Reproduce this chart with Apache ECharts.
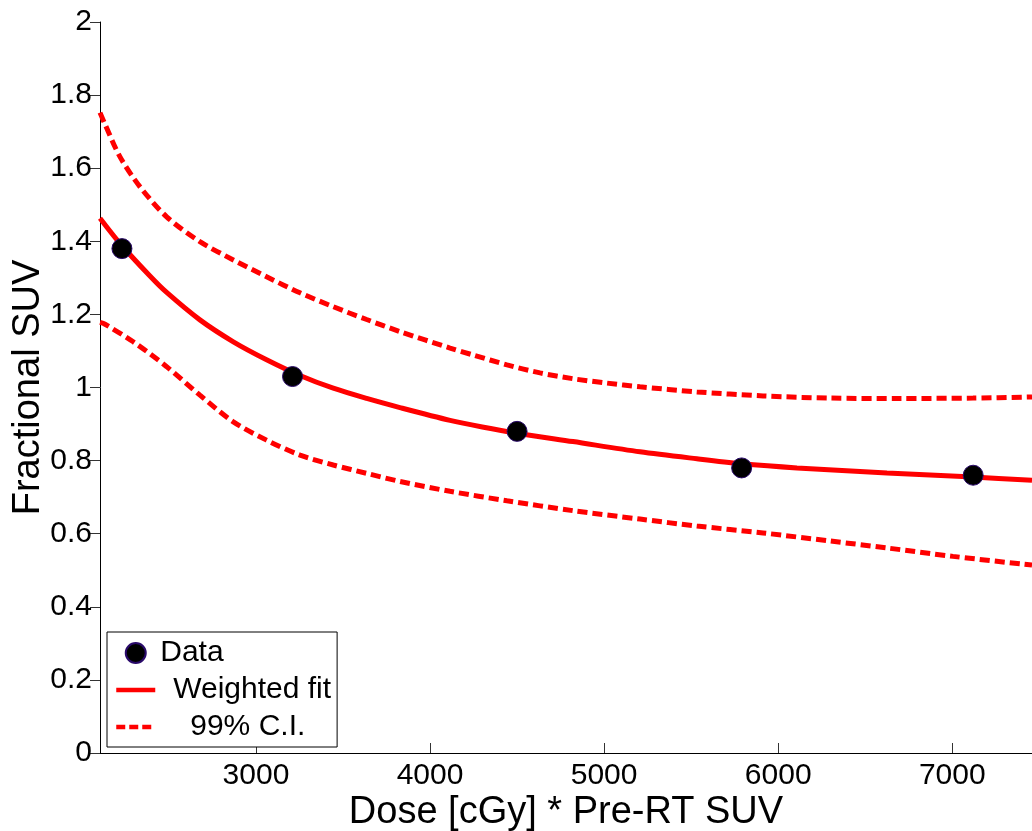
<!DOCTYPE html>
<html>
<head>
<meta charset="utf-8">
<script src="https://cdn.jsdelivr.net/npm/echarts@6/dist/echarts.min.js"></script>
<style>html,body{margin:0;padding:0;background:#fff}#c{width:1032px;height:831px}</style>
</head>
<body>
<div id="c"></div>
<script>
// Measured data points
const dataX = [2230, 3210, 4500, 5790, 7120];
const dataY = [1.38, 1.03, 0.88, 0.78, 0.76];

// Weighted fit
const fitX = [2104, 2219, 2391, 2487, 2678, 2870, 3061, 3253, 3444, 3636, 3827, 4115, 4300, 4500, 4821, 5206, 5533, 5781, 6108, 6625, 7119, 7458];
const fitY = [1.463, 1.394, 1.305, 1.260, 1.185, 1.125, 1.076, 1.033, 0.998, 0.970, 0.945, 0.910, 0.892, 0.875, 0.852, 0.824, 0.805, 0.792, 0.780, 0.766, 0.755, 0.746];

// Upper 99% C.I.
const upX = [2104, 2133, 2219, 2334, 2487, 2678, 2870, 3061, 3253, 3444, 3636, 3827, 4115, 4247, 4442, 4632, 4821, 5016, 5206, 5533, 5913, 6298, 6700, 7119, 7458];
const upY = [1.752, 1.720, 1.631, 1.549, 1.467, 1.399, 1.349, 1.303, 1.259, 1.221, 1.186, 1.153, 1.108, 1.089, 1.062, 1.040, 1.024, 1.012, 1.002, 0.988, 0.977, 0.971, 0.970, 0.971, 0.974];

// Lower 99% C.I.
const loX = [2104, 2133, 2295, 2487, 2678, 2870, 3061, 3253, 3444, 3636, 3827, 4115, 4442, 4821, 5206, 5533, 5913, 6298, 6625, 7004, 7458];
const loY = [1.178, 1.173, 1.125, 1.057, 0.979, 0.906, 0.856, 0.815, 0.788, 0.765, 0.743, 0.716, 0.690, 0.663, 0.640, 0.621, 0.602, 0.580, 0.561, 0.538, 0.514];

const xMin = 2104, xMax = 7458;
const yMin = 0, yMax = 2, yStep = 0.2;

const xTitle = 'Dose [cGy] * Pre-RT SUV';
const yTitle = 'Fractional SUV';
const names = ['Data', 'Weighted fit', '99% C.I.'];

const zip = (xs, ys) => xs.map((x, i) => [x, ys[i]]);
const FONT = '"Liberation Sans", Arial, sans-serif';
const RED = '#ff0000';
const CLEAR = 'rgba(0,0,0,0)';
const DASH = [10, 5];

const chart = echarts.init(document.getElementById('c'), null, {renderer: 'canvas'});
chart.setOption({
  animation: false,
  backgroundColor: '#fff',
  grid: {left: 100, top: 22, right: 0, bottom: 78, containLabel: false, outerBoundsMode: 'none'},
  xAxis: {
    type: 'value', min: xMin, max: xMax, splitNumber: 5,
    name: xTitle, nameLocation: 'middle', nameGap: 41, nameMoveOverlap: false,
    nameTextStyle: {fontFamily: FONT, fontSize: 38, color: '#000'},
    axisLine: {show: true, lineStyle: {color: '#000', width: 1}},
    axisTick: {show: true, inside: true, length: 10, lineStyle: {color: '#333'}},
    axisLabel: {fontFamily: FONT, fontSize: 30, color: '#000', margin: 8,
      showMinLabel: false, showMaxLabel: false,
      formatter: function (v) { return String(v); }},
    splitLine: {show: false}
  },
  yAxis: {
    type: 'value', min: yMin, max: yMax, interval: yStep,
    name: yTitle, nameLocation: 'middle', nameGap: 52, nameRotate: 90, nameMoveOverlap: false,
    nameTextStyle: {fontFamily: FONT, fontSize: 38, color: '#000'},
    axisLine: {show: true, lineStyle: {color: '#000', width: 1}},
    axisTick: {show: true, inside: false, length: 10, lineStyle: {color: '#333'}},
    axisLabel: {fontFamily: FONT, fontSize: 30, color: '#000', margin: 8},
    splitLine: {show: false}
  },
  legend: {
    orient: 'vertical', left: 107, top: 632,
    padding: [6, 6, 5, 7], itemGap: 7,
    itemWidth: 39, itemHeight: 20,
    backgroundColor: '#fff', borderColor: '#000', borderWidth: 1,
    data: [
      {name: names[0]},
      {name: names[1], itemStyle: {opacity: 0}, lineStyle: {width: 4.5, color: RED}},
      {name: names[2], itemStyle: {opacity: 0}, lineStyle: {width: 4.5, color: RED, type: [9, 4]}}
    ],
    formatter: function (n) { return '{p' + names.indexOf(n) + '|' + n + '}'; },
    textStyle: {
      fontFamily: FONT, fontSize: 30, color: '#000',
      rich: {
        p0: {fontFamily: FONT, fontSize: 30, padding: [0, 0, 0, 0]},
        p1: {fontFamily: FONT, fontSize: 30, padding: [0, 0, 0, 13]},
        p2: {fontFamily: FONT, fontSize: 30, padding: [0, 0, 0, 30]}
      }
    }
  },
  series: [
    {
      name: names[1], type: 'line', data: zip(fitX, fitY), smooth: 0.3,
      symbol: 'none', lineStyle: {color: RED, width: 5}, itemStyle: {color: CLEAR}, z: 3
    },
    {
      name: names[2], type: 'line', data: zip(upX, upY), smooth: 0.3,
      symbol: 'none', lineStyle: {color: RED, width: 5, type: DASH}, itemStyle: {color: CLEAR}, z: 2
    },
    {
      name: names[2], type: 'line', data: zip(loX, loY), smooth: 0.3,
      symbol: 'none', lineStyle: {color: RED, width: 5, type: DASH}, itemStyle: {color: CLEAR}, z: 2
    },
    {
      name: names[0], type: 'scatter', data: zip(dataX, dataY), symbol: 'circle', symbolSize: 20,
      itemStyle: {color: '#000', borderColor: '#2a0a6a', borderWidth: 1, opacity: 1}, z: 4
    }
  ]
});
</script>
</body>
</html>
